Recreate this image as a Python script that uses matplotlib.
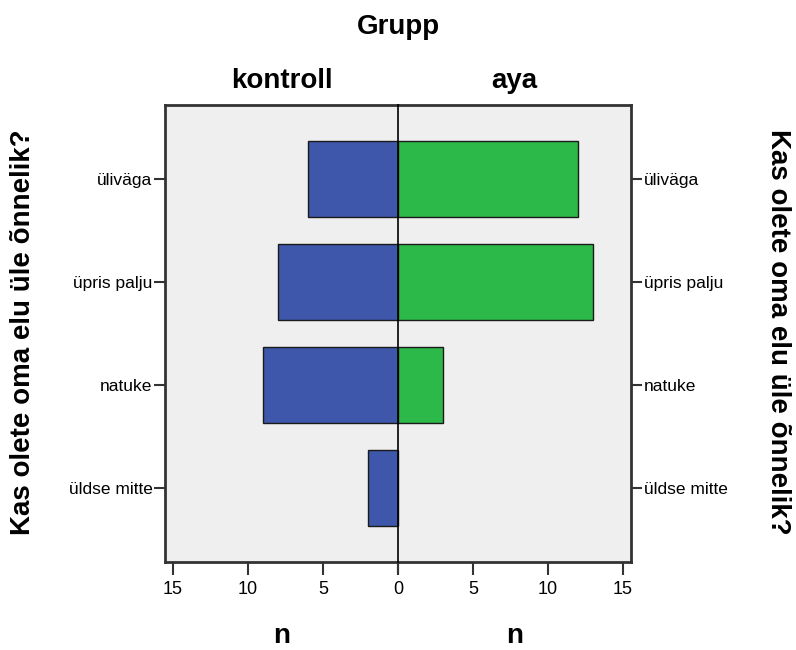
import matplotlib.pyplot as plt

plt.rcParams['font.family'] = ['Liberation Sans', 'DejaVu Sans']

categories = ['üliväga', 'üpris palju', 'natuke', 'üldse mitte']
kontroll = [6, 8, 9, 2]
aya = [12, 13, 3, 0]
xticks = [0, 5, 10, 15]

W, H = 796, 650
fig = plt.figure(figsize=(W / 100, H / 100), dpi=100)

# plot box in pixels
px_l, px_c, px_r = 165, 398, 631
py_t, py_b = 105, 562
bottom = (H - py_b) / H
height = (py_b - py_t) / H

ax_l = fig.add_axes([px_l / W, bottom, (px_c - px_l) / W, height])
ax_r = fig.add_axes([px_c / W, bottom, (px_r - px_c) / W, height])

ypos = list(range(len(categories)))
blue = '#3E57AA'
green = '#2DB84A'
xmax = 15.53

ax_l.barh(ypos, kontroll, height=0.74, color=blue, edgecolor='#1a1a1a', linewidth=1)
ax_r.barh(ypos, aya, height=0.74, color=green, edgecolor='#1a1a1a', linewidth=1)

for ax in (ax_l, ax_r):
    ax.set_facecolor('#EFEFEF')
    ax.set_ylim(len(categories) - 0.28, -0.72)
    ax.set_yticks(ypos)
    ax.set_yticklabels(categories)
    ax.set_xticks(xticks)
    ax.tick_params(axis='x', direction='out', length=9, width=1.5, pad=5,
                   labelsize=13, color='#333333')
    ax.tick_params(axis='y', direction='out', length=8, width=1.5, pad=1,
                   labelsize=12.5, color='#333333')
    for s in ax.spines.values():
        s.set_linewidth(2)
        s.set_color('#333333')

ax_l.set_xlim(xmax, 0)
ax_r.set_xlim(0, xmax)
ax_l.set_xticklabels(['', '5', '10', '15'])
ax_l.spines['right'].set_visible(False)
ax_r.spines['left'].set_linewidth(1.2)
ax_r.spines['left'].set_color('black')
ax_r.spines['left'].set_zorder(5)
ax_r.yaxis.tick_right()
ax_r.yaxis.set_label_position('right')

bold = dict(fontsize=20, fontweight='bold', ha='center', va='center')
fig.text(px_c / W, 1 - 27 / H, 'Grupp', **bold)
fig.text((px_l + px_c) / 2 / W, 1 - 81 / H, 'kontroll', **bold)
fig.text((px_c + px_r) / 2 / W, 1 - 81 / H, 'aya', **bold)
fig.text((px_l + px_c) / 2 / W, 1 - 636 / H, 'n', **bold)
fig.text((px_c + px_r) / 2 / W, 1 - 636 / H, 'n', **bold)
fig.text(23 / W, 1 - 332 / H, 'Kas olete oma elu üle õnnelik?', rotation=90, **bold)
fig.text(778 / W, 1 - 332 / H, 'Kas olete oma elu üle õnnelik?', rotation=270, **bold)

plt.savefig('out.png', dpi=100)
